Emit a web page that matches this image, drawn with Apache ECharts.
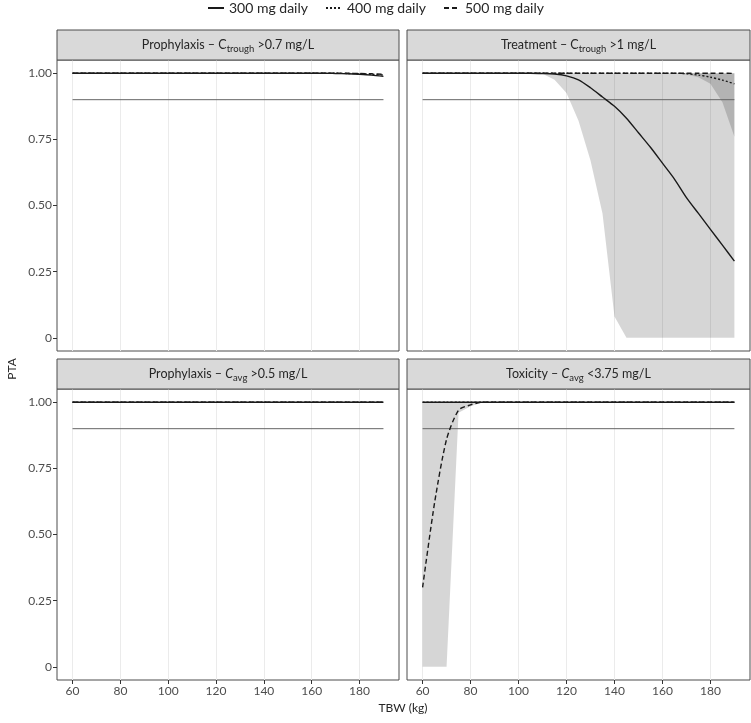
<!DOCTYPE html>
<html>
<head>
<meta charset="utf-8">
<script src="https://cdn.jsdelivr.net/npm/echarts@6/dist/echarts.min.js"></script>
<style>html,body{margin:0;padding:0;background:#fff}#c{width:751px;height:723px}</style>
</head>
<body>
<div id="c"></div>
<script>
// ---- data ----
const TBW = [60,65,70,75,80,85,90,95,100,105,110,115,120,125,130,135,140,145,150,155,160,165,170,175,180,185,190];
const X_TICKS = [60,80,100,120,140,160,180];
const Y_TICKS = [0,0.25,0.5,0.75,1];
const TARGET = 0.9;
const DOSES = ['300 mg daily','400 mg daily','500 mg daily'];

// Panel 1: Prophylaxis – Ctrough >0.7 mg/L
const p1_300 = [1,1,1,1,1,1,1,1,1,1,1,1,1,1,1,1,1,1,1,1,1,1,0.999,0.998,0.996,0.993,0.988];
const p1_400 = [1,1,1,1,1,1,1,1,1,1,1,1,1,1,1,1,1,1,1,1,1,1,1,0.999,0.998,0.996,0.993];
const p1_500 = [1,1,1,1,1,1,1,1,1,1,1,1,1,1,1,1,1,1,1,1,1,1,1,1,0.999,0.998,0.996];

// Panel 2: Treatment – Ctrough >1 mg/L
const p2_300 = [1,1,1,1,1,1,1,1,1,1,0.999,0.997,0.99,0.975,0.945,0.91,0.875,0.83,0.775,0.72,0.66,0.60,0.53,0.47,0.41,0.35,0.29];
const p2_300_lo = [1,1,1,1,1,1,1,1,1,1,0.998,0.975,0.925,0.82,0.67,0.47,0.08,0,0,0,0,0,0,0,0,0,0];
const p2_300_hi = [1,1,1,1,1,1,1,1,1,1,1,1,1,1,1,1,1,1,1,1,1,1,1,1,1,1,1];
const p2_400 = [1,1,1,1,1,1,1,1,1,1,1,1,1,1,1,1,1,1,1,1,1,1,0.998,0.993,0.985,0.974,0.96];
const p2_400_lo = [1,1,1,1,1,1,1,1,1,1,1,1,1,1,1,1,1,1,1,1,1,0.999,0.995,0.985,0.96,0.89,0.76];
const p2_400_hi = [1,1,1,1,1,1,1,1,1,1,1,1,1,1,1,1,1,1,1,1,1,1,1,1,1,1,1];
const p2_500 = [1,1,1,1,1,1,1,1,1,1,1,1,1,1,1,1,1,1,1,1,1,1,1,1,1,1,0.999];

// Panel 3: Prophylaxis – Cavg >0.5 mg/L
const p3_300 = [1,1,1,1,1,1,1,1,1,1,1,1,1,1,1,1,1,1,1,1,1,1,1,1,1,1,1];
const p3_400 = [1,1,1,1,1,1,1,1,1,1,1,1,1,1,1,1,1,1,1,1,1,1,1,1,1,1,1];
const p3_500 = [1,1,1,1,1,1,1,1,1,1,1,1,1,1,1,1,1,1,1,1,1,1,1,1,1,1,1];

// Panel 4: Toxicity – Cavg <3.75 mg/L
const p4_300 = [1,1,1,1,1,1,1,1,1,1,1,1,1,1,1,1,1,1,1,1,1,1,1,1,1,1,1];
const p4_400 = [1,1,1,1,1,1,1,1,1,1,1,1,1,1,1,1,1,1,1,1,1,1,1,1,1,1,1];
const p4_500 = [0.30,0.62,0.86,0.97,0.99,1,1,1,1,1,1,1,1,1,1,1,1,1,1,1,1,1,1,1,1,1,1];
const p4_500_lo = [0,0,0,0.96,0.985,1,1,1,1,1,1,1,1,1,1,1,1,1,1,1,1,1,1,1,1,1,1];
const p4_500_hi = [1,1,1,1,1,1,1,1,1,1,1,1,1,1,1,1,1,1,1,1,1,1,1,1,1,1,1];

// ---- layout ----
const FONT = 'Lato';
const GRIDS = [
  {left:57, top:60, width:342, height:291},
  {left:407, top:60, width:343, height:291},
  {left:57, top:389, width:342, height:291},
  {left:407, top:389, width:343, height:291}
];
const TITLES = [
  '{n|Prophylaxis – C}{s|trough}{n| >0.7 mg/L}',
  '{n|Treatment – C}{s|trough}{n| >1 mg/L}',
  '{n|Prophylaxis – }{i|C}{s|avg}{n| >0.5 mg/L}',
  '{n|Toxicity – }{i|C}{s|avg}{n| <3.75 mg/L}'
];
const PANELS = [
  {lines:[p1_300,p1_400,p1_500], ribbons:[]},
  {lines:[p2_300,p2_400,p2_500], ribbons:[[p2_300_lo,p2_300_hi],[p2_400_lo,p2_400_hi]]},
  {lines:[p3_300,p3_400,p3_500], ribbons:[]},
  {lines:[p4_300,p4_400,p4_500], ribbons:[[p4_500_lo,p4_500_hi]]}
];
const DASH = ['solid',[2,2],[5,3]];
const HFS = 12.5;

const xAxes = [], yAxes = [], series = [], graphics = [];
GRIDS.forEach((g, gi) => {
  const bottom = gi >= 2, left = gi % 2 === 0;
  xAxes.push({
    type:'value', gridIndex:gi, min:53.5, max:196.5, position:'bottom',
    axisLine:{show:false, onZero:false},
    axisTick:{show:bottom, customValues:X_TICKS, length:4, lineStyle:{color:'#333', width:1}},
    axisLabel:{show:bottom, customValues:X_TICKS, color:'#4d4d4d', fontFamily:FONT, fontSize:12, margin:5},
    splitLine:{show:true, lineStyle:{color:'#ebebeb', width:1}}
  });
  yAxes.push({
    type:'value', gridIndex:gi, min:-0.05, max:1.05, position:'left',
    axisLine:{show:false, onZero:false},
    axisTick:{show:left, customValues:Y_TICKS, length:4, lineStyle:{color:'#333', width:1}},
    axisLabel:{show:left, customValues:Y_TICKS, color:'#4d4d4d', fontFamily:FONT, fontSize:12, margin:5,
      formatter:v => v === 0 ? '0' : v.toFixed(2)},
    splitLine:{show:false}
  });
  // ribbons
  PANELS[gi].ribbons.forEach(([lo, hi]) => {
    series.push({
      type:'custom', xAxisIndex:gi, yAxisIndex:gi, silent:true, z:1,
      data: TBW.map((x,i) => [x, lo[i], hi[i]]),
      encode:{x:0, y:[1,2]},
      renderItem:(params, api) => {
        if (params.dataIndex !== 0) return null;
        const pts = [];
        for (let i = 0; i < TBW.length; i++) pts.push(api.coord([TBW[i], hi[i]]));
        for (let i = TBW.length - 1; i >= 0; i--) pts.push(api.coord([TBW[i], lo[i]]));
        return {type:'polygon', shape:{points:pts}, style:{fill:'rgba(0,0,0,0.16)'}};
      }
    });
  });
  // target line
  series.push({
    type:'line', xAxisIndex:gi, yAxisIndex:gi, silent:true, z:2, symbol:'none',
    data:[[TBW[0], TARGET],[TBW[TBW.length-1], TARGET]],
    lineStyle:{color:'#666', width:1}
  });
  // median lines
  PANELS[gi].lines.forEach((ys, k) => {
    series.push({
      type:'line', name:DOSES[k], xAxisIndex:gi, yAxisIndex:gi, silent:true, z:3+k,
      symbol:'none', showSymbol:false, smooth:0.25,
      data: TBW.map((x,i) => [x, ys[i]]),
      lineStyle:{color:'#1a1a1a', width:1.4, type:DASH[k]},
      itemStyle:{color:'#1a1a1a'}
    });
  });
  // strip header
  graphics.push({
    type:'rect', shape:{x:g.left, y:g.top - 30, width:g.width, height:30},
    style:{fill:'#d9d9d9', stroke:'#4d4d4d', lineWidth:1}, z:10
  });
  graphics.push({
    type:'text', z:11,
    style:{
      text:TITLES[gi], x:g.left + g.width/2, y:g.top - 15, align:'center', verticalAlign:'middle',
      fill:'#1a1a1a', fontFamily:FONT, fontSize:HFS,
      rich:{
        n:{fontSize:HFS, fontFamily:FONT, fill:'#262626', lineHeight:18, verticalAlign:'middle'},
        i:{fontSize:HFS, fontFamily:FONT, fill:'#262626', fontStyle:'italic', lineHeight:18, verticalAlign:'middle'},
        s:{fontSize:9.5, fontFamily:FONT, fill:'#262626', lineHeight:10, padding:[8,0,0,0], verticalAlign:'middle'}
      }
    }
  });
});
graphics.push({type:'text', style:{text:'TBW (kg)', x:403, y:708, align:'center', verticalAlign:'middle', fill:'#262626', fontFamily:FONT, fontSize:12}});
graphics.push({type:'text', rotation:Math.PI/2, x:12, y:369, style:{text:'PTA', x:0, y:0, align:'center', verticalAlign:'middle', fill:'#262626', fontFamily:FONT, fontSize:12}});

const chart = echarts.init(document.getElementById('c'), null, {renderer:'canvas'});
chart.setOption({
  animation:false,
  backgroundColor:'#fff',
  legend:{
    data:DOSES, top:-4, left:'center', itemWidth:16, itemHeight:10, itemGap:17,
    itemStyle:{opacity:0, borderWidth:0},
    textStyle:{color:'#262626', fontFamily:FONT, fontSize:14, padding:[0,0,0,0]}, selectedMode:false
  },
  grid: GRIDS.map(g => Object.assign({show:true, borderColor:'#4d4d4d', borderWidth:1, backgroundColor:'transparent', containLabel:false}, g)),
  xAxis:xAxes, yAxis:yAxes, series:series, graphic:graphics
});
</script>
</body>
</html>
